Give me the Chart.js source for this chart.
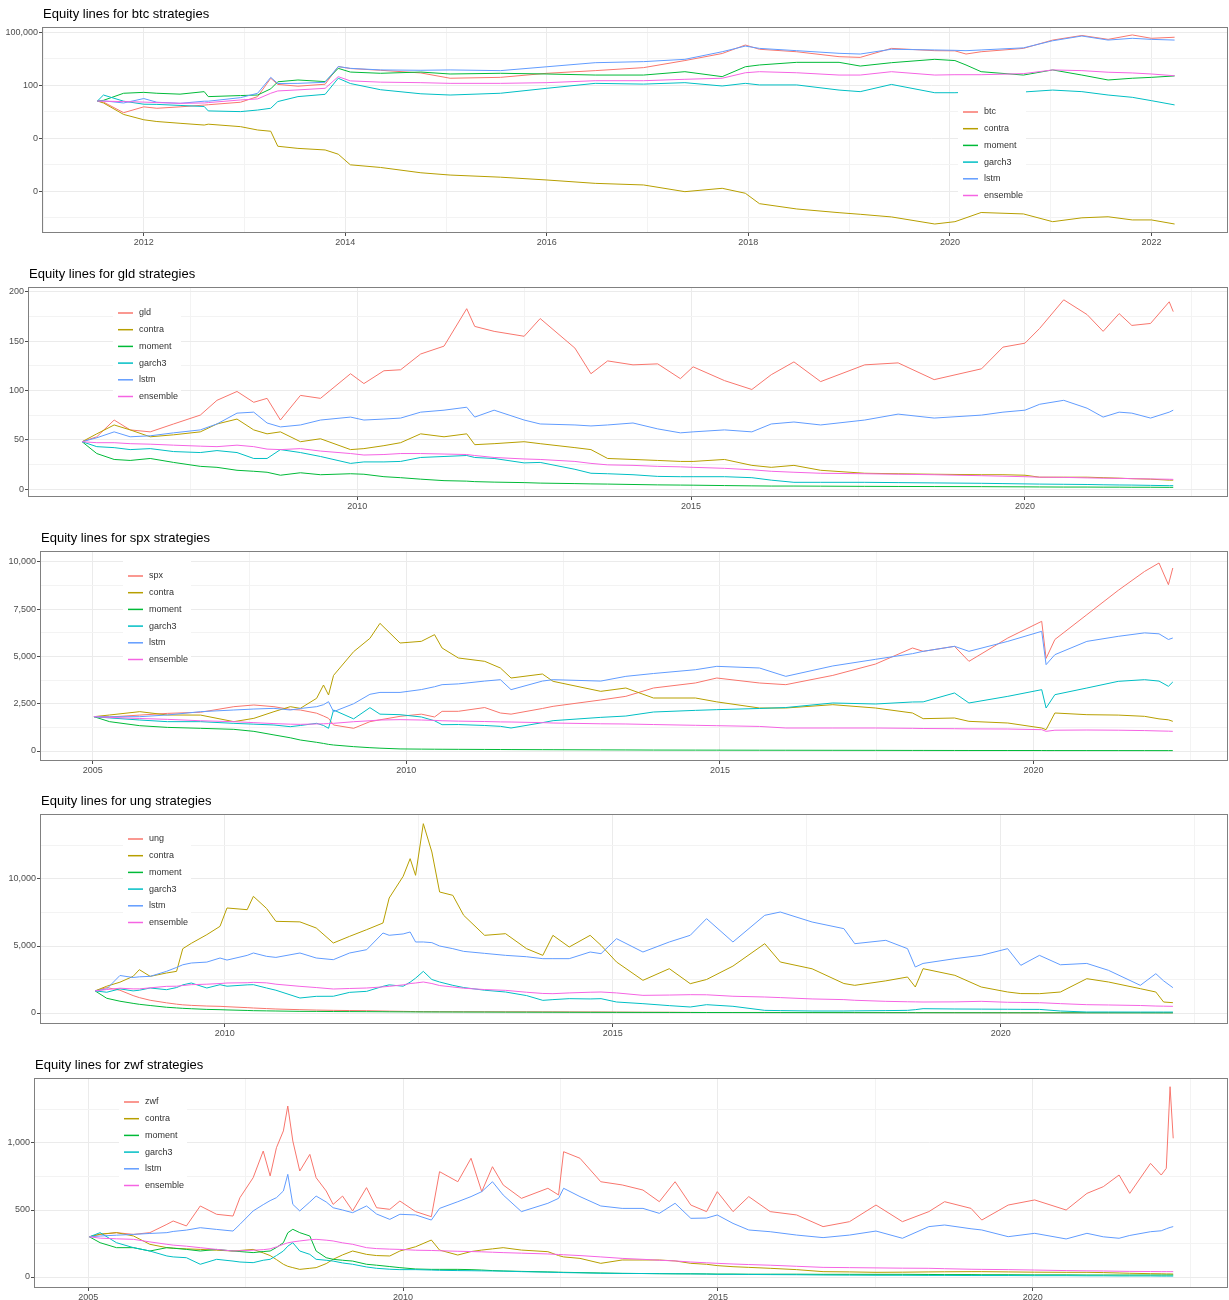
<!DOCTYPE html>
<html>
<head>
<meta charset="utf-8">
<title>Equity lines</title>
<script src="https://cdn.jsdelivr.net/npm/chart.js@4.4.1/dist/chart.umd.min.js"></script>
<style>
  html, body { margin: 0; padding: 0; background: #fff; overflow: hidden; width: 1229px; height: 1300px; }
  canvas { position: absolute; left: 0; }
</style>
</head>
<body>
<canvas id="c1"></canvas>
<canvas id="c2"></canvas>
<canvas id="c3"></canvas>
<canvas id="c4"></canvas>
<canvas id="c5"></canvas>
<script>
// ---- btc (log scale) ----
const btcYears = [2011.54, 2011.6, 2011.8, 2012.0, 2012.13, 2012.36, 2012.6, 2012.64, 2012.96, 2013.13,
  2013.26, 2013.33, 2013.53, 2013.8, 2013.93, 2014.05, 2014.35, 2014.75, 2015.04, 2015.54,
  2016.0, 2016.48, 2016.96, 2017.37, 2017.74, 2017.97, 2018.11, 2018.48, 2018.9, 2019.11,
  2019.42, 2019.85, 2020.05, 2020.16, 2020.31, 2020.73, 2021.02, 2021.31, 2021.57, 2021.81,
  2022.0, 2022.23];
const btcPrice = [12.9, 11.2, 2.82, 6.03, 5.01, 6.03, 7.59, 7.94, 11.0, 22.9,
  251, 112, 89.1, 115, 1148, 891, 708, 501, 251, 282,
  479, 676, 1000, 2512, 6310, 19055, 10965, 7943, 4169, 3802,
  12303, 9120, 8913, 5888, 7943, 12303, 36308, 66069, 39811, 70795,
  45709, 52481];
const btcContra = [12.9, 10, 2.24, 1.12, 0.891, 0.708, 0.562, 0.631, 0.457, 0.295,
  0.251, 0.0355, 0.0269, 0.0219, 0.0126, 0.00316, 0.00224, 0.00112, 0.000832, 0.000631,
  0.000437, 0.000282, 0.000229, 0.0000955, 0.000148, 0.0000776, 0.00002, 0.00001, 6.17e-6, 5.01e-6,
  3.55e-6, 1.41e-6, 1.91e-6, 3.16e-6, 6.31e-6, 5.25e-6, 1.91e-6, 3.16e-6, 3.63e-6, 2.4e-6,
  2.4e-6, 1.41e-6];
const btcMoment = [12.9, 14.1, 35.5, 39.8, 35.5, 31.6, 43.7, 22.9, 26.3, 28.2,
  63.1, 158, 200, 162, 912, 562, 479, 562, 437, 479,
  437, 380, 380, 589, 309, 1122, 1413, 1995, 1995, 1230,
  1905, 2951, 2512, 1413, 589, 380, 741, 380, 200, 251,
  282, 339];
const btcGarch3 = [12.9, 28.2, 12.6, 8.51, 8.32, 7.24, 6.31, 3.55, 3.24, 3.98,
  5.01, 12.0, 22.9, 30.9, 251, 126, 56.2, 33.1, 28.2, 35.5,
  67.6, 129, 117, 141, 91.2, 129, 105, 105, 53.7, 43.7,
  112, 38.0, 38.0, 39.8, 41.7, 41.7, 53.7, 43.7, 28.2, 20.9,
  13.5, 7.76];
const btcLstm = [12.9, 13.2, 10, 17.8, 11.0, 9.55, 12.6, 12.6, 20.0, 35.5,
  282, 126, 129, 148, 1148, 912, 741, 708, 741, 676,
  1122, 1905, 2188, 2951, 7943, 16596, 12303, 9120, 6457, 5888,
  10965, 10000, 9550, 9120, 10000, 13183, 33113, 61660, 36308, 45709,
  39811, 36308];
const btcEnsemble = [12.9, 12.6, 12.0, 11.2, 10.5, 9.55, 10, 10.5, 14.8, 17.0,
  35.5, 47.9, 55.0, 67.6, 309, 178, 151, 141, 129, 129,
  141, 182, 182, 219, 251, 513, 589, 513, 380, 380,
  589, 380, 398, 398, 398, 457, 741, 676, 550, 501,
  437, 347];
const btcYTicks = [0.0001, 0.1, 100, 100000];
const btcXTicks = [2012, 2014, 2016, 2018, 2020, 2022];

// ---- gld ----
const gldYears = [2005.88, 2006.1, 2006.36, 2006.6, 2006.9, 2007.25, 2007.65, 2007.9, 2008.2, 2008.45,
  2008.65, 2008.85, 2009.15, 2009.45, 2009.9, 2010.1, 2010.4, 2010.65, 2010.95, 2011.3,
  2011.64, 2011.76, 2012.05, 2012.5, 2012.74, 2013.26, 2013.5, 2013.75, 2014.13, 2014.5,
  2014.84, 2015.03, 2015.5, 2015.91, 2016.2, 2016.54, 2016.94, 2017.6, 2018.1, 2018.64,
  2019.35, 2019.67, 2020.0, 2020.22, 2020.58, 2020.93, 2021.17, 2021.41, 2021.6, 2021.88,
  2022.16, 2022.22];
const gldPrice = [48, 53, 70, 60, 58, 66, 75, 90, 99, 88,
  92, 70, 95, 92, 117, 107, 120, 121, 137, 145,
  183, 165, 160, 155, 173, 143, 117, 130, 126, 127,
  112, 124, 110, 101, 116, 129, 109, 126, 128, 111,
  122, 144, 148, 163, 192, 177, 160, 178, 166, 168,
  190, 180];
const gldContra = [48, 56, 65, 60, 53, 55, 58, 66, 71, 60,
  56, 58, 48, 51, 40, 41, 44, 47, 56, 53,
  56, 45, 46, 48, 46, 42, 40, 31, 30, 29,
  28, 28, 30, 24, 22, 24, 19, 16, 15.5, 15,
  14.5, 14.5, 14, 12, 12, 12, 11.5, 11, 10.5, 10,
  9, 9];
const gldMoment = [48, 36, 30, 29, 31, 27, 23, 22, 19, 18,
  17, 14, 16.5, 14.5, 15.5, 15, 12.5, 11.5, 10, 8.5,
  8, 7.5, 7, 6.5, 6, 5.5, 5.2, 5, 4.6, 4.2,
  4, 3.9, 3.5, 3.2, 3, 3, 2.9, 2.7, 2.6, 2.5,
  2.4, 2.3, 2.2, 2.1, 2, 2, 1.9, 1.9, 1.8, 1.8,
  1.7, 1.7];
const gldGarch3 = [48, 43, 42, 40, 41, 38, 37, 39, 37, 31,
  31, 40, 37, 33, 26, 27.5, 27.5, 28, 32, 33,
  34, 32, 31, 26.5, 27, 20, 16, 15.5, 14.5, 12.8,
  12.5, 12.5, 12.5, 11.5, 9, 6.8, 6.8, 6.8, 6.5, 6.2,
  5.8, 5.5, 5.2, 5, 4.8, 4.6, 4.3, 4.1, 4, 3.7,
  3.4, 3.4];
const gldLstm = [48, 52, 58, 53, 54, 57, 60, 66, 77, 78,
  67, 63, 65, 70, 73, 70, 71, 72, 78, 80,
  83, 73, 80, 70, 66, 65, 64, 65, 67, 61,
  57, 58, 60, 58, 66, 68, 65, 70, 76, 72,
  75, 78, 80, 86, 90, 82, 73, 78, 77, 72,
  78, 80];
const gldEnsemble = [48, 47, 47, 46, 45.5, 44.5, 43.5, 43, 44.5, 43,
  40.5, 40, 41, 38.5, 36, 34.5, 35, 36, 36, 35.5,
  35, 34, 32, 30.5, 30, 28, 26, 24.5, 24, 23,
  22.5, 22, 21, 19.5, 18, 17, 16, 15.5, 15, 14.5,
  13.5, 13, 12.5, 12, 11.8, 11.3, 11, 10.8, 10.5, 10.2,
  9.9, 9.8];
const gldYTicks = [0, 50, 100, 150, 200];
const gldXTicks = [2010, 2015, 2020];

// ---- spx ----
const spxYears = [2005.02, 2005.27, 2005.75, 2006.19, 2006.72, 2007.25, 2007.57, 2007.89, 2008.15, 2008.31,
  2008.57, 2008.68, 2008.76, 2008.84, 2009.16, 2009.42, 2009.58, 2009.9, 2010.24, 2010.45,
  2010.57, 2010.83, 2011.25, 2011.5, 2011.67, 2012.17, 2012.34, 2013.1, 2013.5, 2013.94,
  2014.61, 2014.95, 2015.63, 2016.05, 2016.8, 2017.48, 2018.07, 2018.24, 2018.74, 2018.97,
  2019.59, 2020.13, 2020.2, 2020.34, 2020.85, 2021.35, 2021.77, 2022.0, 2022.15, 2022.22];
const spxPrice = [1816, 1800, 1900, 1990, 2050, 2345, 2434, 2345, 2200, 2170,
  2000, 1850, 1728, 1376, 1200, 1552, 1650, 1834, 1950, 1800,
  2099, 2100, 2300, 2010, 1950, 2250, 2363, 2700, 2892, 3333,
  3600, 3862, 3598, 3510, 4000, 4600, 5450, 5273, 5538, 4744,
  5979, 6861, 4900, 5900, 7213, 8500, 9500, 9947, 8800, 9683];
const spxContra = [1816, 1905, 2081, 1905, 1900, 1552, 1728, 2081, 2345, 2257,
  2787, 3492, 2963, 4000, 5256, 5961, 6755, 5714, 5802, 6155,
  5450, 4921, 4744, 4392, 3862, 4074, 3686, 3157, 3333, 2804,
  2804, 2600, 2275, 2275, 2451, 2275, 2011, 1711, 1746, 1570,
  1481, 1217, 1129, 2011, 1922, 1900, 1834, 1700, 1650, 1570];
const spxMoment = [1816, 1552, 1340, 1250, 1200, 1146, 1040, 850, 700, 582,
  459, 400, 350, 317, 230, 176, 150, 110, 100, 95,
  92, 88, 82, 78, 76, 70, 68, 60, 56, 50,
  47, 45, 42, 40, 37, 34, 30, 30, 28, 27,
  26, 25, 24, 24, 23, 22, 21, 20, 20, 20];
const spxGarch3 = [1816, 1750, 1640, 1552, 1552, 1464, 1420, 1376, 1287, 1350,
  1464, 1350, 1200, 2169, 1700, 2293, 1950, 1922, 1800, 1600,
  1393, 1400, 1350, 1305, 1217, 1500, 1605, 1780, 1850, 2063,
  2150, 2187, 2250, 2300, 2540, 2487, 2593, 2600, 3069, 2540,
  2892, 3245, 2275, 2980, 3333, 3686, 3774, 3700, 3422, 3651];
const spxLstm = [1816, 1810, 1816, 1905, 2081, 2169, 2220, 2257, 2169, 2250,
  2345, 2450, 2610, 2081, 2500, 3000, 3100, 3100, 3250, 3400,
  3510, 3550, 3700, 3774, 3245, 3700, 3774, 3700, 3950, 4100,
  4300, 4480, 4392, 3950, 4500, 4850, 5150, 5273, 5538, 5273,
  5802, 6332, 4568, 5097, 5800, 6067, 6250, 6200, 5900, 5979];
const spxEnsemble = [1816, 1780, 1720, 1675, 1600, 1552, 1500, 1450, 1420, 1411,
  1430, 1440, 1450, 1464, 1550, 1600, 1640, 1658, 1640, 1620,
  1600, 1580, 1560, 1540, 1534, 1500, 1480, 1440, 1429, 1400,
  1360, 1340, 1300, 1217, 1217, 1217, 1200, 1190, 1180, 1170,
  1164, 1129, 1041, 1100, 1111, 1100, 1080, 1060, 1050, 1041];
const spxYTicks = [0, 2500, 5000, 7500, 10000];
const spxXTicks = [2005, 2010, 2015, 2020];

// ---- ung ----
const ungYears = [2008.33, 2008.48, 2008.65, 2008.82, 2008.9, 2009.04, 2009.25, 2009.38, 2009.46, 2009.57,
  2009.77, 2009.94, 2010.03, 2010.29, 2010.37, 2010.54, 2010.66, 2010.97, 2011.18, 2011.4,
  2011.61, 2011.83, 2012.04, 2012.12, 2012.3, 2012.39, 2012.46, 2012.56, 2012.67, 2012.77,
  2012.94, 2013.08, 2013.35, 2013.62, 2013.89, 2014.1, 2014.23, 2014.44, 2014.71, 2014.85,
  2015.05, 2015.39, 2015.73, 2016.0, 2016.21, 2016.55, 2016.96, 2017.16, 2017.57, 2017.98,
  2018.12, 2018.52, 2018.8, 2018.9, 2019.0, 2019.41, 2019.75, 2020.09, 2020.26, 2020.5,
  2020.77, 2021.11, 2021.39, 2021.8, 2022.0, 2022.1, 2022.22];
const ungPrice = [1650, 1900, 1700, 1300, 1150, 950, 760, 660, 610, 570,
  520, 498, 470, 400, 373, 330, 300, 249, 220, 199,
  185, 174, 150, 140, 124, 115, 105, 100, 98, 96,
  95, 95, 92, 90, 90, 88, 86, 84, 80, 78,
  70, 60, 55, 45, 40, 40, 42, 40, 38, 36,
  35, 33, 32, 32, 30, 28, 25, 20, 18, 17,
  18, 20, 22, 25, 22, 20, 20];
const ungContra = [1650, 2000, 2300, 2736, 3234, 2736, 2985, 3109, 4800, 5200,
  5846, 6468, 7836, 7711, 8706, 7800, 6841, 6800, 6343, 5224,
  5721, 6219, 6716, 8582, 10199, 11517, 10274, 14129, 12015, 9030,
  8781, 7289, 5796, 5920, 4801, 4303, 5796, 4925, 5796, 5050,
  3806, 2438, 3308, 2189, 2500, 3500, 5174, 3806, 3300, 2200,
  2065, 2400, 2687, 1940, 3308, 2811, 1940, 1567, 1450, 1443,
  1567, 2562, 2313, 1816, 1567, 821, 771];
const ungMoment = [1650, 1100, 880, 720, 650, 560, 430, 380, 350, 320,
  270, 249, 230, 190, 174, 160, 150, 124, 120, 110,
  105, 100, 95, 90, 85, 83, 82, 80, 78, 77,
  75, 73, 70, 66, 63, 60, 58, 55, 52, 50,
  48, 45, 42, 40, 38, 35, 32, 31, 29, 27,
  26, 24, 23, 22, 22, 20, 19, 17, 16, 15,
  14, 13, 12, 11, 10, 10, 10];
const ungGarch3 = [1650, 1550, 1800, 1650, 1700, 1866, 1741, 1900, 2100, 2239,
  1866, 2114, 2000, 2100, 2114, 1866, 1700, 1119, 1244, 1250,
  1542, 1617, 1990, 2100, 2000, 2300, 2600, 3109, 2500, 2313,
  2065, 1900, 1700, 1567, 1300, 945, 1000, 1070, 1050, 1070,
  821, 697, 550, 448, 622, 500, 199, 180, 149, 150,
  160, 180, 199, 250, 323, 300, 290, 280, 274, 270,
  150, 75, 75, 70, 70, 70, 70];
const ungLstm = [1650, 1800, 2800, 2650, 2700, 2736, 3109, 3400, 3600, 3731,
  3800, 4104, 3950, 4300, 4478, 4229, 4150, 4478, 4104, 3980,
  4478, 4726, 5970, 5800, 5900, 6045, 5299, 5300, 5250, 5000,
  4801, 4600, 4450, 4303, 4200, 4055, 4055, 4055, 4552, 4428,
  5547, 4552, 5299, 5800, 7040, 5299, 7289, 7537, 6791, 6294,
  5174, 5423, 4801, 3433, 3700, 4055, 4303, 4801, 3557, 4303,
  3600, 3700, 3184, 2065, 2935, 2400, 1891];
const ungEnsemble = [1650, 1750, 1850, 1800, 1800, 1880, 1990, 2000, 2050, 2114,
  2150, 2200, 2239, 2260, 2289, 2250, 2150, 1990, 1900, 1791,
  1830, 1866, 1950, 1990, 2100, 2200, 2239, 2313, 2200, 2050,
  1940, 1850, 1750, 1692, 1550, 1460, 1443, 1500, 1550, 1567,
  1500, 1318, 1340, 1368, 1360, 1250, 1194, 1150, 1050, 1000,
  950, 871, 840, 830, 821, 830, 871, 800, 790, 771,
  700, 622, 600, 560, 520, 510, 498];
const ungYTicks = [0, 5000, 10000];
const ungXTicks = [2010, 2015, 2020];

// ---- zwf ----
const zwfYears = [2005.02, 2005.19, 2005.45, 2005.72, 2005.98, 2006.25, 2006.35, 2006.56, 2006.78, 2007.04,
  2007.3, 2007.41, 2007.62, 2007.78, 2007.89, 2007.99, 2008.1, 2008.17, 2008.25, 2008.36,
  2008.52, 2008.62, 2008.78, 2008.89, 2009.04, 2009.2, 2009.42, 2009.58, 2009.79, 2009.95,
  2010.2, 2010.45, 2010.58, 2010.87, 2011.08, 2011.25, 2011.42, 2011.59, 2011.88, 2012.3,
  2012.47, 2012.55, 2012.81, 2013.14, 2013.48, 2013.81, 2014.07, 2014.32, 2014.57, 2014.82,
  2014.99, 2015.24, 2015.49, 2015.83, 2016.25, 2016.67, 2017.09, 2017.51, 2017.93, 2018.35,
  2018.6, 2019.02, 2019.19, 2019.61, 2020.03, 2020.53, 2020.86, 2021.12, 2021.37, 2021.54,
  2021.87, 2022.04, 2022.12, 2022.18, 2022.23];
const zwfPrice = [300, 318, 331, 318, 331, 393, 418, 381, 530, 468,
  455, 592, 741, 940, 754, 965, 1090, 1276, 1015, 791,
  915, 741, 642, 542, 604, 493, 667, 517, 505, 567,
  488, 450, 786, 711, 886, 637, 823, 687, 587, 662,
  612, 935, 886, 711, 687, 649, 562, 711, 537, 488,
  637, 488, 600, 488, 463, 376, 413, 537, 413, 488,
  562, 512, 425, 537, 575, 500, 624, 674, 761, 624,
  848, 761, 811, 1420, 1035];
const zwfContra = [300, 320, 331, 306, 244, 219, 215, 210, 206, 200,
  194, 198, 206, 180, 160, 130, 95, 80, 70, 57,
  65, 70, 100, 132, 165, 194, 169, 160, 157, 194,
  226, 276, 201, 164, 190, 201, 210, 219, 201, 189,
  160, 150, 139, 102, 127, 127, 127, 120, 102, 95,
  85, 77, 72, 65, 55, 40, 38, 35, 36, 38,
  39, 40, 40, 38, 36, 35, 35, 33, 30, 28,
  25, 24, 23, 23, 22];
const zwfMoment = [300, 256, 219, 219, 194, 219, 215, 206, 194, 206,
  194, 190, 182, 190, 194, 220, 256, 330, 356, 331,
  306, 194, 144, 132, 125, 119, 95, 88, 78, 70,
  60, 57, 57, 57, 55, 52, 48, 45, 42, 38,
  36, 35, 33, 30, 27, 26, 25, 24, 24, 23,
  22, 22, 21, 21, 21, 20, 20, 20, 20, 19,
  18, 18, 17, 17, 16, 16, 15, 15, 15, 15,
  15, 15, 15, 15, 15];
const zwfGarch3 = [300, 331, 256, 219, 194, 157, 150, 144, 95, 132,
  119, 112, 107, 125, 132, 160, 194, 230, 256, 194,
  169, 132, 125, 119, 105, 95, 75, 65, 58, 55,
  55, 52, 50, 48, 47, 46, 45, 44, 40, 36,
  34, 33, 31, 28, 27, 26, 25, 24, 23, 22,
  20, 20, 19, 18, 17, 15, 14, 13, 13, 12,
  12, 11, 11, 11, 10, 10, 9, 9, 8, 8,
  8, 7, 7, 7, 7];
const zwfLstm = [300, 306, 312, 318, 325, 331, 340, 350, 368, 355,
  343, 393, 493, 540, 570, 592, 642, 766, 542, 493,
  560, 604, 560, 517, 500, 480, 530, 470, 430, 468,
  463, 425, 512, 562, 600, 637, 711, 612, 488, 550,
  587, 662, 600, 530, 512, 512, 475, 550, 438, 440,
  463, 400, 351, 338, 313, 294, 313, 343, 289, 376,
  388, 360, 351, 301, 326, 284, 326, 300, 289, 310,
  338, 345, 360, 370, 376];
const zwfEnsemble = [300, 290, 285, 281, 262, 244, 238, 230, 219, 206,
  194, 196, 200, 204, 210, 225, 244, 255, 262, 269,
  278, 281, 275, 269, 255, 244, 219, 212, 208, 206,
  200, 198, 196, 192, 190, 188, 185, 182, 178, 172,
  168, 166, 160, 150, 139, 132, 125, 120, 112, 106,
  102, 97, 93, 88, 80, 72, 70, 68, 66, 65,
  62, 58, 57, 55, 52, 48, 46, 45, 43, 42,
  41, 40, 40, 40, 40];
const zwfYTicks = [0, 500, 1000];
const zwfXTicks = [2005, 2010, 2015, 2020];

const STRATS = ['contra', 'moment', 'garch3', 'lstm', 'ensemble'];
const COLORS = ['#F8766D', '#B79F00', '#00BA38', '#00BFC4', '#619CFF', '#F564E3'];
const FONT = '"Liberation Sans", Arial, Helvetica, sans-serif';

Chart.defaults.font.family = FONT;

// panel layout (page pixels) + axis limits
const panels = [
  { canvas: 'c1', asset: 'btc', years: btcYears,
    lines: [btcPrice, btcContra, btcMoment, btcGarch3, btcLstm, btcEnsemble],
    top: 27, bottom: 233, left: 42, log: true,
    yMin: 4.37e-7, yMax: 199500, yMajor: btcYTicks, yMinor: [3.162e-6, 0.003162, 3.162, 3162],
    xMin: 2010.99, xMax: 2022.76, xMajor: btcXTicks, xMinor: [2011, 2013, 2015, 2017, 2019, 2021],
    legX: 916, legY: 64 },
  { canvas: 'c2', asset: 'gld', years: gldYears,
    lines: [gldPrice, gldContra, gldMoment, gldGarch3, gldLstm, gldEnsemble],
    top: 287, bottom: 497, left: 28, log: false,
    yMin: -8.1, yMax: 205, yMajor: gldYTicks, yMinor: [25, 75, 125, 175],
    xMin: 2005.07, xMax: 2023.04, xMajor: gldXTicks, xMinor: [2007.5, 2012.5, 2017.5, 2022.5],
    legX: 85, legY: 5 },
  { canvas: 'c3', asset: 'spx', years: spxYears,
    lines: [spxPrice, spxContra, spxMoment, spxGarch3, spxLstm, spxEnsemble],
    top: 551, bottom: 761, left: 40, log: false,
    yMin: -529, yMax: 10582, yMajor: spxYTicks, yMinor: [1250, 3750, 6250, 8750],
    xMin: 2004.16, xMax: 2023.1, xMajor: spxXTicks, xMinor: [2007.5, 2012.5, 2017.5, 2022.5],
    legX: 83, legY: 4 },
  { canvas: 'c4', asset: 'ung', years: ungYears,
    lines: [ungPrice, ungContra, ungMoment, ungGarch3, ungLstm, ungEnsemble],
    top: 814, bottom: 1024, left: 40, log: false,
    yMin: -820, yMax: 14850, yMajor: ungYTicks, yMinor: [2500, 7500, 12500],
    xMin: 2007.62, xMax: 2022.93, xMajor: ungXTicks, xMinor: [2012.5, 2017.5, 2022.5],
    legX: 83, legY: 4 },
  { canvas: 'c5', asset: 'zwf', years: zwfYears,
    lines: [zwfPrice, zwfContra, zwfMoment, zwfGarch3, zwfLstm, zwfEnsemble],
    top: 1078, bottom: 1288, left: 34, log: false,
    yMin: -82, yMax: 1485, yMajor: zwfYTicks, yMinor: [250, 750, 1250],
    xMin: 2004.14, xMax: 2023.1, xMajor: zwfXTicks, xMinor: [2007.5, 2012.5, 2017.5, 2022.5],
    legX: 85, legY: 3 }
];

function fmtComma(v) {
  return Math.round(v).toLocaleString('en-US');
}

function axis(type, min, max, majors, minors, fmt, fit) {
  const isMajor = (c) => c.tick && majors.includes(c.tick.value);
  return {
    type: type, min: min, max: max,
    afterBuildTicks: (s) => { s.ticks = majors.concat(minors).map(v => ({ value: v })); },
    afterFit: fit,
    ticks: {
      autoSkip: false, maxRotation: 0, color: '#4d4d4d', padding: 1,
      font: { size: 9, family: FONT },
      callback: (v) => majors.includes(v) ? fmt(v) : ''
    },
    grid: {
      color: (c) => isMajor(c) ? '#ebebeb' : '#f3f3f3',
      lineWidth: 1,
      tickLength: 3,
      tickColor: (c) => isMajor(c) ? '#4d4d4d' : 'rgba(0,0,0,0)'
    },
    border: { display: false }
  };
}

// title, legend box inside the panel, panel border
const panelDecor = {
  id: 'panelDecor',
  afterDatasetsDraw(chart, args, opts) {
    const ctx = chart.ctx;
    const a = chart.chartArea;
    ctx.save();
    ctx.fillStyle = '#000';
    ctx.font = '13px ' + FONT;
    ctx.textAlign = 'left';
    ctx.textBaseline = 'middle';
    ctx.fillText(opts.title, a.left + 1, a.top - 13);

    const bx = a.left + opts.legX, by = a.top + opts.legY;
    ctx.fillStyle = '#fff';
    ctx.fillRect(bx, by, 68, 112);
    ctx.font = '9px ' + FONT;
    opts.names.forEach((name, i) => {
      const y = by + 21 + i * 16.7;
      ctx.strokeStyle = COLORS[i];
      ctx.lineWidth = 1.5;
      ctx.beginPath();
      ctx.moveTo(bx + 5, y);
      ctx.lineTo(bx + 20, y);
      ctx.stroke();
      ctx.fillStyle = '#333';
      ctx.fillText(name, bx + 26, y);
    });

    ctx.strokeStyle = '#808080';
    ctx.lineWidth = 1;
    ctx.strokeRect(a.left + 0.5, a.top + 0.5, a.right - a.left - 1, a.bottom - a.top - 1);
    ctx.restore();
  }
};

panels.forEach((p) => {
  const cv = document.getElementById(p.canvas);
  cv.width = 1229;
  cv.height = p.bottom - p.top + 57;
  cv.style.top = (p.top - 27) + 'px';
  const names = [p.asset].concat(STRATS);

  new Chart(cv, {
    type: 'line',
    data: {
      datasets: p.lines.map((vals, i) => ({
        label: names[i],
        data: p.years.map((x, k) => ({ x: x, y: vals[k] })),
        borderColor: COLORS[i],
        borderWidth: 1,
        pointRadius: 0,
        tension: 0,
        fill: false,
        order: 5 - i
      }))
    },
    options: {
      responsive: false,
      animation: false,
      devicePixelRatio: 1,
      layout: { padding: { top: 27, right: 1, left: 0, bottom: 0 } },
      plugins: {
        legend: { display: false },
        tooltip: { enabled: false },
        panelDecor: { title: 'Equity lines for ' + p.asset + ' strategies', names: names, legX: p.legX, legY: p.legY }
      },
      scales: {
        x: axis('linear', p.xMin, p.xMax, p.xMajor, p.xMinor, (v) => String(v), (s) => { s.height = 30; }),
        y: axis(p.log ? 'logarithmic' : 'linear', p.yMin, p.yMax, p.yMajor, p.yMinor, fmtComma, (s) => { s.width = p.left; })
      }
    },
    plugins: [panelDecor]
  });
});
</script>
</body>
</html>
